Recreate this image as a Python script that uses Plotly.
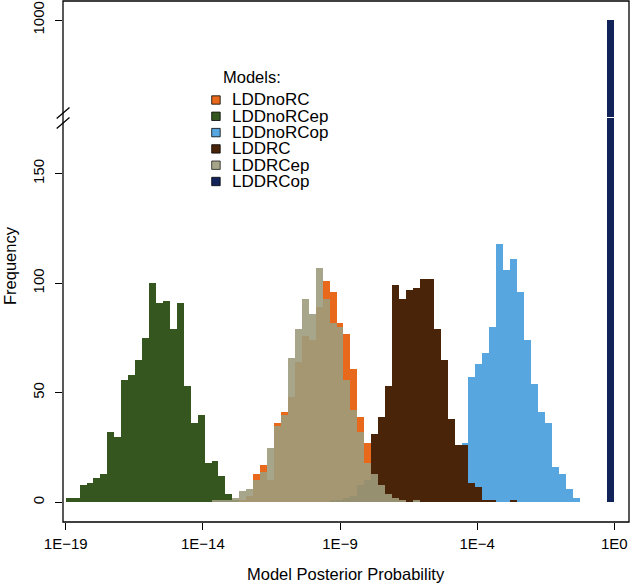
import plotly.graph_objects as go

# ---- data: histogram counts of log10(model posterior probability) ----
# common bin grid: 79 equal bins from -19 to 1 (axis units)
BIN_LO = -19.0
BIN_HI = 1.0
N_BINS = 79

models = ["LDDnoRC", "LDDnoRCep", "LDDnoRCop", "LDDRC", "LDDRCep", "LDDRCop"]

LDDnoRC_first_bin = 24
LDDnoRC_counts = [1, 1, 3, 13, 17, 10, 36, 41, 48, 64, 76, 74, 89, 101, 96, 82,
                  77, 61, 39, 27, 20, 12, 7, 3, 1]

LDDnoRCep_first_bin = 0
LDDnoRCep_counts = [2, 2, 8, 9, 11, 13, 32, 30, 56, 58, 65, 75, 100, 91, 92, 79,
                    91, 53, 36, 40, 18, 19, 12, 4, 1]

LDDnoRCop_first_bin = 55
LDDnoRCop_counts = [3, 15, 27, 57, 63, 68, 80, 118, 106, 111, 96, 74, 54, 41, 36,
                    16, 13, 6, 2]

LDDRC_first_bin = 38
LDDRC_counts = [1, 1, 2, 3, 8, 10, 31, 39, 53, 99, 93, 97, 98, 102, 102, 79, 65,
                38, 26, 26, 9, 7, 1, 1, 0, 0, 1]

LDDRCep_first_bin = 21
LDDRCep_counts = [1, 1, 1, 2, 5, 6, 10, 14, 25, 35, 40, 66, 79, 93, 86, 107, 93,
                  82, 80, 56, 42, 32, 18, 13, 8, 4, 2, 1, 0, 1]

LDDRCop_first_bin = 78
LDDRCop_counts = [1000]

x_tick_vals = [-19, -14, -9, -4, 1]
x_tick_text = ["1E\u221219", "1E\u221214", "1E\u22129", "1E\u22124", "1E0"]
y_low_ticks = [0, 50, 100, 150]
y_high_ticks = [1000]

# ---- styling ----
colors = {
    "LDDnoRC": "#E8691C",
    "LDDnoRCep": "#36561F",
    "LDDnoRCop": "#58A6E0",
    "LDDRC": "#4A2409",
    "LDDRCep": "#9E9C7D",
    "LDDRCop": "#12235A",
}
opac = {"LDDRCep": 0.9}

series = {
    "LDDnoRC": (LDDnoRC_first_bin, LDDnoRC_counts),
    "LDDnoRCep": (LDDnoRCep_first_bin, LDDnoRCep_counts),
    "LDDnoRCop": (LDDnoRCop_first_bin, LDDnoRCop_counts),
    "LDDRC": (LDDRC_first_bin, LDDRC_counts),
    "LDDRCep": (LDDRCep_first_bin, LDDRCep_counts),
    "LDDRCop": (LDDRCop_first_bin, LDDRCop_counts),
}

BIN_W = (BIN_HI - BIN_LO) / N_BINS

W, H = 632, 585
ML, MR, MT, MB = 63, 3, 1, 63
PW, PH = W - ML - MR, H - MT - MB
FONT = "Liberation Sans, Arial, Helvetica, sans-serif"


def px_x(px):
    return (px - ML) / PW


def px_y(py):
    return (H - MB - py) / PH


fig = go.Figure()
for name in models:
    first, counts = series[name]
    xs = [BIN_LO + (first + i + 0.5) * BIN_W for i in range(len(counts))]
    common = dict(
        x=xs, y=counts, width=BIN_W, name=name, showlegend=False,
        marker=dict(color=colors[name], opacity=opac.get(name, 1.0), line=dict(width=0)),
        hoverinfo="x+y+name",
    )
    fig.add_trace(go.Bar(xaxis="x", yaxis="y", **common))
    fig.add_trace(go.Bar(xaxis="x", yaxis="y2", **common))

axis_common = dict(
    showgrid=False, zeroline=False, showline=False,
    ticks="outside", ticklen=7, tickwidth=1, tickcolor="#000",
    tickfont=dict(family=FONT, size=15, color="#000"),
)

low_top = px_y(118)
high_bot = px_y(117)
PX_PER_UNIT = 27.43
X_AT_M19 = 65.7

fig.update_layout(
    width=W, height=H,
    margin=dict(l=ML, r=MR, t=MT, b=MB, pad=0),
    paper_bgcolor="white", plot_bgcolor="white",
    barmode="overlay", bargap=0,
    showlegend=False,
    xaxis=dict(range=[-19 + (ML - X_AT_M19) / PX_PER_UNIT, -19 + (W - MR - X_AT_M19) / PX_PER_UNIT],
               tickvals=x_tick_vals, ticktext=x_tick_text, anchor="y",
               ticklabelstandoff=1, **axis_common),
    yaxis=dict(domain=[0, low_top], range=[-9.0, 175.4], tickvals=y_low_ticks,
               tickangle=-90, anchor="x", ticklabelstandoff=5, **axis_common),
    yaxis2=dict(domain=[high_bot, 1], range=[955.8, 1008.7], tickvals=y_high_ticks,
                tickangle=-90, anchor="x", ticklabelstandoff=5, **axis_common),
)

shapes = [
    dict(type="rect", xref="paper", yref="paper", x0=0, x1=1, y0=0, y1=1,
         line=dict(color="#000", width=1.3), fillcolor="rgba(0,0,0,0)", layer="above"),
    dict(type="line", xref="paper", yref="paper", x0=px_x(56.7), x1=px_x(69.5),
         y0=px_y(118.5), y1=px_y(107.5), line=dict(color="#000", width=1.3)),
    dict(type="line", xref="paper", yref="paper", x0=px_x(56.7), x1=px_x(69.5),
         y0=px_y(128.5), y1=px_y(117.5), line=dict(color="#000", width=1.3)),
]

annotations = [
    dict(text="Frequency", xref="paper", yref="paper", x=px_x(10), y=px_y(266),
         textangle=-90, showarrow=False, xanchor="center", yanchor="middle",
         font=dict(family=FONT, size=16.5, color="#000")),
    dict(text="Model Posterior Probability", xref="paper", yref="paper",
         x=px_x(346), y=px_y(574), showarrow=False, xanchor="center", yanchor="middle",
         font=dict(family=FONT, size=16.5, color="#000")),
    dict(text="Models:", xref="paper", yref="paper", x=px_x(220.5), y=px_y(77),
         showarrow=False, xanchor="left", yanchor="middle",
         font=dict(family=FONT, size=16.5, color="#000")),
]

row0, row_step = 100.0, 16.3
for i, name in enumerate(models):
    cy = row0 + i * row_step
    shapes.append(dict(type="rect", xref="paper", yref="paper",
                       x0=px_x(211.7), x1=px_x(220.2), y0=px_y(cy + 4.2), y1=px_y(cy - 4.2),
                       fillcolor=colors[name], opacity=opac.get(name, 1.0),
                       line=dict(color="#000", width=0.8)))
    annotations.append(dict(text=name, xref="paper", yref="paper", x=px_x(229.5), y=px_y(cy),
                            showarrow=False, xanchor="left", yanchor="middle",
                            font=dict(family=FONT, size=17, color="#000")))

fig.update_layout(shapes=shapes, annotations=annotations)

fig.write_html("out.html", config={"displayModeBar": False},
               post_script="document.body.style.margin='0px';")
